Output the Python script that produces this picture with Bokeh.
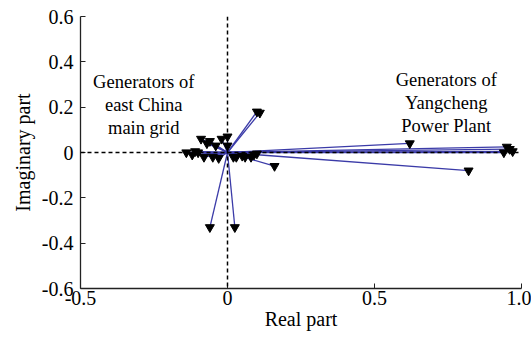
from bokeh.plotting import figure
from bokeh.models import Range1d, FixedTicker, Span, Label, ColumnDataSource
from bokeh.embed import file_html
from bokeh.resources import INLINE

# Eigenvector components (tips of the arrows)
real_part = [0.62, 0.82, 0.95, 0.96, 0.97, 0.94, 0.16, 0.10, 0.11, -0.06, 0.025,
             -0.14, -0.09, 0.0, -0.12, -0.10, -0.08, -0.06, -0.04, -0.05, 0.02,
             0.05, 0.08, 0.09, -0.02, 0.03, -0.07, -0.11, 0.06, 0.10, -0.03, 0.0]
imag_part = [0.04, -0.08, 0.025, 0.015, 0.005, 0.0, -0.06, 0.18, 0.175, -0.33, -0.33,
             0.0, 0.06, 0.07, -0.01, 0.0, -0.02, 0.05, 0.03, -0.02, -0.02,
             -0.015, -0.02, -0.01, 0.06, -0.02, 0.04, 0.005, -0.02, -0.005, -0.025, 0.03]

x_ticks = [-0.5, 0, 0.5, 1.0]
x_tick_labels = ["-0.5", "0", "0.5", "1.0"]
y_ticks = [-0.6, -0.4, -0.2, 0, 0.2, 0.4, 0.6]
y_tick_labels = ["-0.6", "-0.4", "-0.2", "0", "0.2", "0.4", "0.6"]

left_label = ["Generators of", "east China", "main grid"]
right_label = ["Generators of", "Yangcheng", "Power Plant"]

FONT = "Liberation Serif"

p = figure(width=531, height=338, output_backend="svg", toolbar_location=None,
           x_range=Range1d(-0.5, 1.0), y_range=Range1d(-0.6, 0.6),
           min_border_left=80, min_border_right=10, min_border_top=16, min_border_bottom=50)
p.outline_line_color = None
p.grid.visible = False
p.background_fill_color = "white"

src = ColumnDataSource(dict(x0=[0] * len(real_part), y0=[0] * len(real_part),
                            x1=real_part, y1=imag_part))

p.add_layout(Span(location=0, dimension="height", line_dash="4 3", line_color="black", line_width=1.5))
p.add_layout(Span(location=0, dimension="width", line_dash="4 3", line_color="black", line_width=1.5))

p.segment("x0", "y0", "x1", "y1", source=src, line_color="#3b3ba8", line_width=1.3)
p.scatter("x1", "y1", source=src, marker="inverted_triangle", size=9,
          fill_color="black", line_color="black")

for ax in (p.xaxis[0], p.yaxis[0]):
    ax.major_tick_in = 5
    ax.major_tick_out = 0
    ax.minor_tick_in = 0
    ax.minor_tick_out = 0
    ax.axis_line_color = "#222222"
    ax.axis_line_width = 1.3
    ax.major_tick_line_color = "#222222"
    ax.major_label_text_font = FONT
    ax.major_label_text_font_size = "20px"
    ax.major_label_text_color = "black"
    ax.axis_label_text_font = FONT
    ax.axis_label_text_font_size = "20px"
    ax.axis_label_text_font_style = "normal"
    ax.axis_label_text_color = "black"

p.xaxis[0].ticker = FixedTicker(ticks=x_ticks)
p.xaxis[0].major_label_overrides = dict(zip(x_ticks, x_tick_labels))
p.yaxis[0].ticker = FixedTicker(ticks=y_ticks)
p.yaxis[0].major_label_overrides = dict(zip(y_ticks, y_tick_labels))
p.xaxis[0].axis_label = "Real part"
p.yaxis[0].axis_label = "Imaginary part"
p.xaxis[0].major_label_standoff = 2
p.xaxis[0].axis_label_standoff = 0
p.yaxis[0].major_label_standoff = 7
p.yaxis[0].axis_label_standoff = 5

for i, t in enumerate(left_label):
    p.add_layout(Label(x=-0.285, y=0.313 - i * 0.102, text=t, text_align="center",
                       text_baseline="alphabetic", text_font=FONT, text_font_size="18.5px",
                       text_color="black"))
for i, t in enumerate(right_label):
    p.add_layout(Label(x=0.744, y=0.322 - i * 0.102, text=t, text_align="center",
                       text_baseline="alphabetic", text_font=FONT, text_font_size="18.5px",
                       text_color="black"))

open("out.html", "w").write(file_html(p, INLINE))
